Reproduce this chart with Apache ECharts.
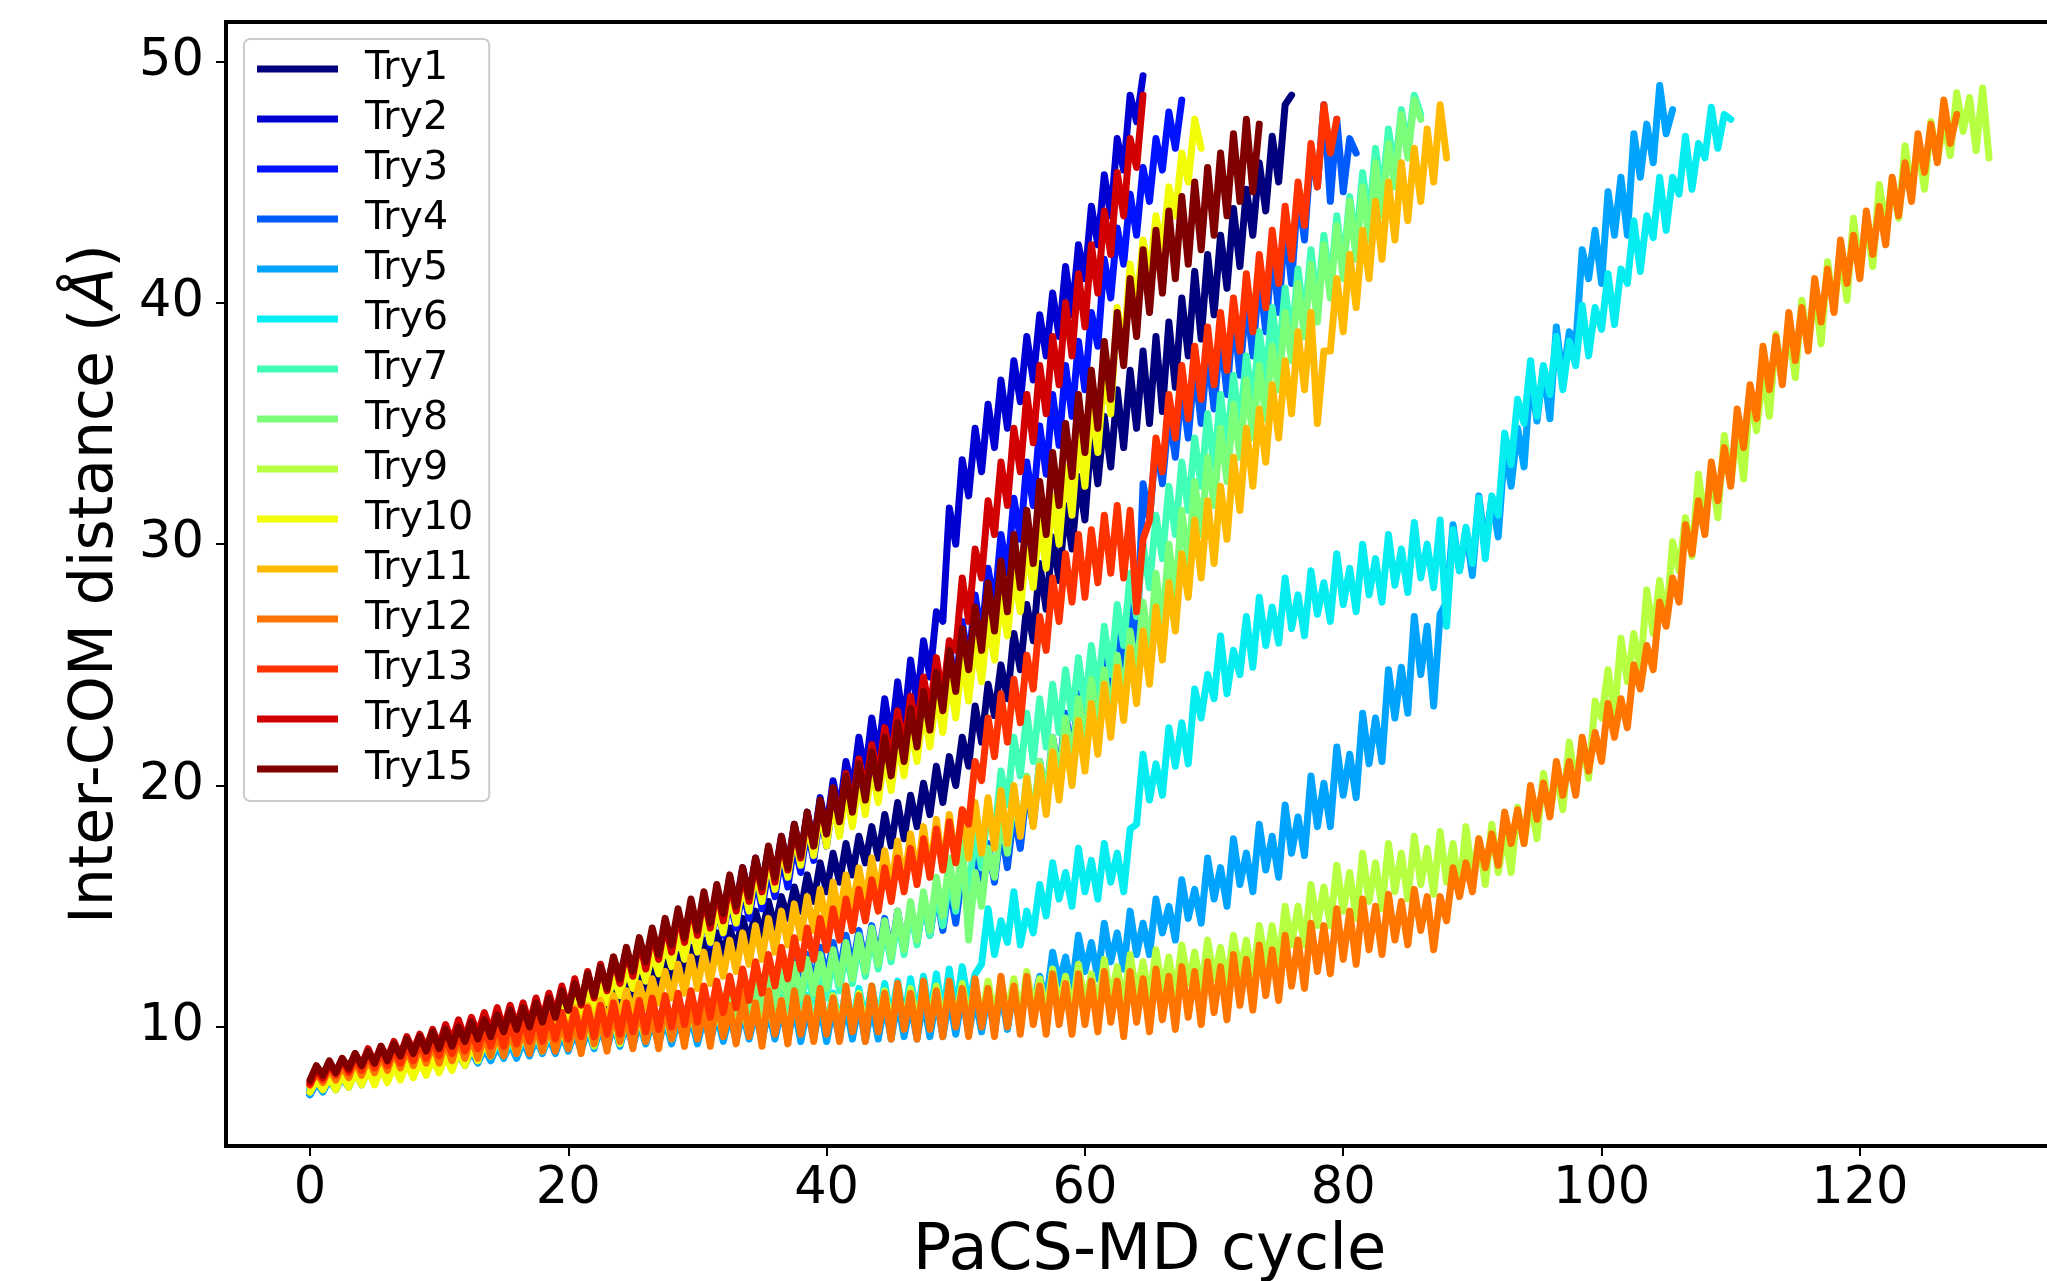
<!DOCTYPE html>
<html>
<head>
<meta charset="utf-8">
<script src="https://cdn.jsdelivr.net/npm/echarts@6/dist/echarts.min.js"></script>
<style>
html,body{margin:0;padding:0;background:#fff;}
#chart{width:2047px;height:1281px;}
</style>
</head>
<body>
<div id="chart"></div>
<script>
// x step between consecutive samples (cycles)
const STEP = 0.5;
const names = ['Try1','Try2','Try3','Try4','Try5','Try6','Try7','Try8','Try9','Try10','Try11','Try12','Try13','Try14','Try15'];
const colors = ['#00007f','#0000d2','#0012ff','#005bff','#00a4ff','#06edf1','#41ffb6','#7bff7b','#b6ff41','#f1fc06','#ffb900','#ff7500','#ff3200','#d20000','#800000'];
const xTicks = [0,20,40,60,80,100,120];
const yTicks = [10,20,30,40,50];

const try1 = [
7.4,7.9,7.6,8.0,7.7,8.2,7.8,8.3,7.9,8.4,
8.0,8.6,8.1,8.7,8.3,8.8,8.4,8.9,8.5,9.1,
8.6,9.2,8.7,9.3,8.8,9.5,9.0,9.6,9.1,9.8,
9.2,9.9,9.4,10.0,9.5,10.2,9.6,10.4,9.8,10.6,
10.0,10.9,10.2,11.1,10.4,11.4,10.7,11.6,10.9,11.9,
11.1,12.1,11.4,12.4,11.6,12.7,11.9,13.0,12.1,13.3,
12.5,13.6,12.7,13.9,13.0,14.1,13.2,14.5,13.5,14.8,
13.8,15.2,14.1,15.4,14.5,15.8,14.8,16.3,15.2,16.8,
15.6,17.2,16.0,17.6,16.3,17.9,16.8,18.3,17.0,18.8,
17.5,19.3,17.8,19.6,18.3,20.1,18.8,20.8,19.3,21.2,
20.0,22.0,20.8,23.3,21.8,24.2,22.9,25.0,23.6,26.3,
24.8,27.5,26.0,29.2,27.3,30.3,28.5,31.6,29.8,32.8,
31.0,34.6,32.5,35.3,33.2,36.4,34.0,37.2,34.8,38.0,
35.0,38.6,35.5,39.2,36.5,40.2,37.8,41.3,38.5,42.0,
39.5,42.8,40.6,43.9,41.5,44.7,42.8,45.8,43.8,46.9,
45.0,48.2,48.6];
const try2 = [
7.3,7.8,7.5,8.0,7.6,8.2,7.8,8.3,7.9,8.5,
8.0,8.6,8.2,8.8,8.3,8.9,8.4,9.1,8.6,9.2,
8.7,9.4,8.9,9.5,9.0,9.7,9.2,9.9,9.3,10.1,
9.5,10.3,9.7,10.6,9.9,10.8,10.1,11.0,10.3,11.3,
10.5,11.6,10.8,11.9,11.1,12.3,11.4,12.6,11.8,13.0,
12.0,13.4,12.4,13.8,12.8,14.2,13.2,14.6,13.6,15.0,
13.8,15.3,14.2,15.7,14.6,16.2,15.0,16.6,15.4,17.0,
15.8,17.4,16.2,17.9,16.6,18.4,17.1,18.9,17.6,19.5,
18.2,20.2,18.9,21.0,19.8,22.0,20.5,22.8,21.2,23.6,
21.9,24.3,22.5,25.2,23.4,26.0,24.5,27.2,26.8,31.5,
30.0,33.5,32.0,34.8,33.0,35.8,34.0,36.8,34.8,37.6,
35.9,38.6,36.8,39.5,37.8,40.4,38.6,41.5,39.5,42.4,
41.0,44.0,42.4,45.3,43.6,46.8,45.5,48.6,47.5,49.4];
const try3 = [
7.2,7.7,7.4,7.9,7.6,8.1,7.7,8.2,7.8,8.4,
8.0,8.5,8.1,8.7,8.2,8.8,8.4,9.0,8.5,9.1,
8.6,9.3,8.8,9.4,8.9,9.6,9.1,9.8,9.2,10.0,
9.4,10.2,9.6,10.4,9.8,10.6,10.0,10.8,10.2,11.0,
10.3,11.2,10.6,11.6,10.9,11.9,11.2,12.3,11.5,12.7,
11.7,13.0,12.0,13.3,12.3,13.6,12.6,14.0,12.9,14.3,
13.1,14.6,13.4,15.0,13.8,15.3,14.1,15.7,14.5,16.2,
14.9,16.6,15.4,17.1,15.8,17.6,16.4,18.2,16.9,18.8,
17.5,19.4,18.0,20.0,18.6,20.6,19.2,21.2,19.7,21.9,
20.3,22.6,20.9,23.3,21.6,24.1,22.4,24.9,23.2,25.8,
24.0,26.8,25.0,27.9,26.1,29.0,27.4,30.4,28.8,31.9,
30.2,33.4,31.6,34.9,32.9,36.2,34.1,37.4,35.3,38.4,
36.4,39.6,38.2,41.8,40.2,43.1,41.6,44.5,42.8,45.6,
44.2,46.8,45.5,47.9,46.4,48.4];
const try4 = [
7.4,7.9,7.5,8.1,7.7,8.2,7.8,8.4,8.0,8.5,
8.1,8.6,8.2,8.8,8.3,8.9,8.4,9.0,8.5,9.1,
8.6,9.2,8.7,9.3,8.8,9.5,8.9,9.6,9.0,9.7,
9.1,9.8,9.2,9.9,9.3,10.0,9.4,10.1,9.5,10.2,
9.5,10.4,9.6,10.5,9.7,10.6,9.8,10.7,9.9,10.8,
9.9,10.9,10.0,11.0,10.1,11.1,10.2,11.2,10.3,11.3,
10.3,11.4,10.4,11.6,10.6,11.8,10.7,12.0,10.9,12.2,
11.0,12.4,11.2,12.6,11.4,12.8,11.6,13.0,11.8,13.3,
12.0,13.5,12.2,13.8,12.4,14.0,12.6,14.2,12.8,14.5,
13.0,14.8,13.2,15.0,13.5,15.3,13.8,15.6,14.0,15.9,
14.3,16.4,14.8,17.0,15.4,17.6,16.0,18.2,16.6,18.9,
17.4,19.9,18.4,21.0,19.4,22.0,20.4,23.0,21.2,23.8,
21.8,24.6,22.4,25.6,23.4,26.8,24.6,28.0,25.5,32.5,
31.0,34.2,32.5,35.4,33.6,36.5,34.4,37.4,35.0,38.0,
35.6,38.8,36.2,39.6,37.0,40.2,37.8,41.2,38.8,42.2,
39.6,43.2,40.8,44.6,42.6,46.3,44.8,48.2,44.2,47.6,
44.6,46.8,46.2];
const try5 = [
7.2,7.7,7.3,7.8,7.4,7.9,7.5,8.1,7.6,8.2,
7.7,8.3,7.8,8.4,7.9,8.5,8.0,8.6,8.1,8.7,
8.2,8.8,8.3,8.9,8.4,9.0,8.5,9.1,8.6,9.2,
8.7,9.3,8.7,9.4,8.8,9.5,8.9,9.6,8.9,9.7,
9.0,9.8,9.0,9.9,9.1,10.0,9.1,10.1,9.2,10.1,
9.2,10.2,9.3,10.2,9.3,10.3,9.3,10.3,9.4,10.4,
9.3,10.4,9.4,10.5,9.4,10.5,9.4,10.6,9.5,10.6,
9.4,10.7,9.5,10.7,9.5,10.8,9.4,10.8,9.5,10.9,
9.4,10.8,9.5,10.9,9.5,11.0,9.4,10.9,9.5,11.0,
9.5,11.1,9.6,11.0,9.5,11.1,9.6,11.2,9.6,11.2,
9.7,11.3,9.7,11.2,9.8,11.4,9.8,11.5,9.9,11.6,
10.1,12.0,10.9,12.1,11.0,13.1,11.8,12.9,11.6,13.8,
12.3,13.5,12.0,14.3,12.7,13.9,12.4,14.8,13.0,14.3,
13.0,15.3,13.9,15.0,13.6,16.1,14.5,15.7,14.3,17.0,
15.3,16.6,15.0,17.8,15.9,17.2,15.6,18.4,16.5,17.9,
16.2,19.2,17.2,18.7,17.1,20.4,18.3,20.1,18.3,21.6,
19.6,21.3,19.5,23.0,20.9,22.8,21.0,24.8,22.8,24.9,
23.0,27.0,24.6,26.6,23.3,27.1,27.6,30.8,28.9,30.6,
28.7,32.0,29.9,31.9,30.3,34.0,32.4,34.8,33.2,37.0,
35.1,37.3,35.2,39.0,36.8,38.8,38.2,42.2,41.0,43.0,
40.8,44.6,42.8,45.2,42.8,47.0,45.2,47.4,45.8,49.0,
47.0,48.0];
const try6 = [
7.4,7.9,7.5,8.0,7.6,8.1,7.7,8.3,7.8,8.4,
7.9,8.5,8.0,8.6,8.1,8.7,8.2,8.8,8.3,8.9,
8.4,9.0,8.5,9.1,8.6,9.2,8.7,9.3,8.8,9.4,
8.8,9.5,8.9,9.6,9.0,9.7,9.0,9.8,9.1,9.9,
9.2,10.0,9.2,10.1,9.3,10.2,9.3,10.3,9.4,10.4,
9.4,10.4,9.5,10.5,9.5,10.6,9.6,10.6,9.6,10.7,
9.6,10.8,9.7,10.8,9.7,10.9,9.8,11.0,9.8,11.0,
9.8,11.1,9.9,11.2,9.9,11.2,10.0,11.3,10.0,11.4,
10.0,11.4,10.1,11.5,10.1,11.6,10.2,11.7,10.2,11.8,
10.3,11.9,10.3,12.0,10.4,12.1,10.4,12.2,10.5,12.4,
10.6,12.5,10.9,12.2,12.6,14.9,13.0,14.4,13.5,15.6,
13.4,14.8,13.9,15.9,14.6,16.8,15.3,16.4,15.0,17.4,
15.6,16.9,15.3,17.6,16.0,17.2,15.6,18.2,18.4,21.3,
19.4,20.9,19.6,22.4,20.8,22.6,20.9,24.0,22.8,24.6,
23.6,26.2,23.8,25.6,24.6,27.0,24.9,27.8,25.8,27.4,
25.9,28.6,26.5,27.9,26.2,28.9,27.1,28.4,26.8,29.6,
27.5,29.0,27.2,30.0,27.9,29.4,27.6,30.4,28.3,29.8,
28.0,30.9,28.6,30.0,28.2,31.0,26.6,30.6,28.9,30.7,
29.2,31.9,29.4,32.0,31.2,34.6,33.3,36.0,35.0,37.6,
35.3,37.4,36.2,38.6,36.4,38.4,37.4,39.9,37.8,39.8,
38.9,41.2,39.1,41.4,40.8,43.4,41.3,43.6,42.7,45.2,
43.0,45.2,44.5,46.9,44.7,46.6,46.0,48.1,46.4,47.8,
47.6];
const try7 = [
7.5,8.0,7.6,8.1,7.7,8.3,7.9,8.4,8.0,8.5,
8.1,8.7,8.2,8.8,8.3,8.9,8.4,9.0,8.5,9.1,
8.6,9.2,8.7,9.3,8.8,9.4,8.9,9.5,9.0,9.6,
9.1,9.7,9.2,9.8,9.2,9.9,9.3,10.0,9.4,10.1,
9.4,10.2,9.5,10.3,9.5,10.4,9.6,10.5,9.6,10.6,
9.7,10.7,9.7,10.8,9.8,10.9,9.8,11.0,9.9,11.1,
9.9,11.2,10.0,11.3,10.1,11.4,10.2,11.5,10.3,11.7,
10.4,11.8,10.5,12.0,10.7,12.2,10.9,12.4,11.0,12.6,
11.2,12.9,11.5,13.2,11.8,13.5,12.1,13.8,12.4,14.1,
12.7,14.5,13.0,14.9,13.4,15.3,13.8,15.7,14.2,16.2,
14.8,17.0,15.6,18.0,16.6,19.2,17.8,20.6,19.2,22.0,
20.4,23.0,21.0,23.6,21.6,24.2,22.2,24.8,22.8,25.3,
23.2,25.8,23.8,26.6,24.6,27.5,25.8,28.8,27.0,30.0,
28.2,31.2,29.4,32.4,30.4,33.4,31.4,34.4,32.4,35.4,
33.2,36.2,34.0,37.0,34.8,37.8,35.8,38.8,36.8,39.8,
37.6,40.6,38.4,41.4,39.2,42.2,39.8,42.8,40.6,43.6,
41.4,44.4,42.4,45.4,43.4,46.4,44.4,47.2,45.4,48.0,
46.4,48.6,47.8];
const try8 = [
7.6,8.1,7.7,8.2,7.8,8.4,8.0,8.5,8.1,8.6,
8.2,8.8,8.3,8.9,8.4,9.0,8.5,9.1,8.6,9.2,
8.7,9.3,8.8,9.4,8.9,9.5,9.0,9.6,9.1,9.7,
9.1,9.8,9.2,9.9,9.3,10.0,9.3,10.1,9.4,10.2,
9.4,10.3,9.5,10.4,9.5,10.5,9.6,10.6,9.6,10.7,
9.7,10.8,9.8,10.9,9.8,11.0,9.9,11.1,10.0,11.2,
10.0,11.3,10.1,11.4,10.2,11.6,10.3,11.8,10.5,12.0,
10.6,12.2,10.8,12.4,11.0,12.6,11.2,12.8,11.4,13.0,
11.6,13.2,11.8,13.5,12.0,13.8,12.3,14.1,12.6,14.4,
12.9,14.8,13.2,15.2,13.6,15.6,14.0,16.2,14.6,17.0,
15.0,17.8,13.6,16.4,15.0,17.4,16.2,18.6,17.2,19.6,
18.0,20.4,18.6,21.0,19.4,22.0,20.2,22.8,21.0,23.6,
21.8,24.4,22.4,24.8,22.8,25.4,23.6,26.4,24.6,27.6,
25.6,28.8,26.6,30.0,27.8,31.4,29.2,32.6,30.4,33.6,
31.6,34.8,32.6,35.8,33.6,36.8,34.4,37.4,35.2,38.2,
36.4,39.6,37.6,40.8,38.6,41.6,39.2,42.4,40.2,43.2,
41.0,44.2,41.8,44.8,42.6,45.8,43.6,46.6,44.8,47.8,
46.0,48.4,47.6];
const try9 = [
7.5,8.0,7.6,8.1,7.7,8.2,7.8,8.4,7.9,8.5,
8.0,8.6,8.1,8.7,8.2,8.8,8.3,8.9,8.4,9.0,
8.5,9.1,8.6,9.2,8.7,9.3,8.7,9.4,8.8,9.5,
8.9,9.6,8.9,9.7,9.0,9.8,9.0,9.9,9.1,10.0,
9.1,10.1,9.2,10.2,9.2,10.3,9.3,10.3,9.3,10.4,
9.4,10.5,9.4,10.5,9.5,10.6,9.5,10.7,9.6,10.7,
9.6,10.8,9.6,10.8,9.7,10.9,9.7,10.9,9.7,11.0,
9.8,11.0,9.8,11.1,9.8,11.1,9.9,11.2,9.9,11.2,
9.9,11.3,10.0,11.3,10.0,11.4,10.0,11.4,10.1,11.5,
10.1,11.5,10.1,11.6,10.2,11.6,10.2,11.7,10.2,11.7,
10.3,11.8,10.3,11.8,10.4,11.9,10.4,12.0,10.5,12.0,
10.4,12.3,10.7,12.0,10.5,12.4,10.8,12.1,10.6,12.6,
10.9,12.2,10.7,12.8,11.1,12.5,10.9,13.0,11.3,12.7,
11.1,13.2,11.5,12.9,11.3,13.4,11.8,13.1,11.5,13.6,
12.0,13.3,11.8,13.8,12.2,13.6,12.0,14.2,12.6,14.2,
12.6,15.0,13.4,15.0,13.4,15.9,14.2,15.8,14.2,16.7,
14.8,16.4,14.5,17.2,15.2,16.8,14.9,17.6,15.6,17.2,
15.3,17.9,15.9,17.4,15.5,18.1,16.0,17.6,15.6,18.3,
16.2,17.8,15.9,18.4,16.4,18.0,16.4,19.1,17.6,19.4,
17.8,20.5,18.8,20.6,19.0,21.8,20.0,21.8,20.3,23.5,
22.8,24.8,22.9,26.1,24.3,26.3,24.7,28.1,26.3,28.5,
26.7,30.1,28.9,31.1,29.5,32.9,30.9,33.1,31.1,34.5,
32.5,34.7,32.7,36.3,34.7,37.1,35.3,38.7,36.9,38.9,
36.9,40.1,38.3,40.5,38.3,41.7,39.7,42.1,40.1,43.5,
41.3,43.5,41.5,44.9,43.1,45.1,43.5,46.5,44.7,46.5,
44.7,47.5,45.9,47.5,46.1,48.7,47.1,48.5,46.3,48.9,
46.0];
const try10 = [
7.3,7.8,7.4,7.9,7.4,8.0,7.5,8.1,7.6,8.2,
7.6,8.3,7.7,8.4,7.8,8.5,7.9,8.6,8.0,8.7,
8.1,8.8,8.2,9.0,8.4,9.2,8.6,9.4,8.8,9.6,
9.0,9.8,9.2,10.0,9.4,10.3,9.6,10.6,9.9,10.9,
10.1,11.2,10.4,11.5,10.7,11.8,11.0,12.1,11.3,12.4,
11.6,12.8,11.9,13.1,12.2,13.5,12.5,13.9,12.8,14.3,
13.1,14.6,13.5,15.0,13.9,15.5,14.3,16.0,14.8,16.5,
15.2,17.0,15.7,17.5,16.2,18.0,16.7,18.5,17.1,19.0,
17.5,19.4,17.9,19.8,18.3,20.3,18.8,20.8,19.3,21.3,
19.8,21.9,20.4,22.5,21.0,23.2,21.6,23.9,22.2,24.6,
22.8,25.3,23.5,26.0,24.3,26.9,25.2,27.8,26.2,28.8,
27.2,30.0,28.2,31.0,29.0,32.0,30.0,33.2,31.2,34.6,
32.4,35.8,33.8,37.2,35.4,39.8,38.0,41.6,39.8,42.6,
41.0,43.6,42.2,44.8,43.6,46.2,45.0,47.6,46.4];
const try11 = [
7.6,8.2,7.8,8.4,7.9,8.6,8.1,8.8,8.2,8.9,
8.3,9.1,8.4,9.2,8.5,9.3,8.6,9.4,8.7,9.5,
8.8,9.6,8.9,9.7,9.0,9.8,9.1,9.9,9.2,10.0,
9.3,10.1,9.4,10.2,9.5,10.4,9.6,10.5,9.7,10.6,
9.8,10.8,9.9,10.9,10.0,11.1,10.2,11.3,10.4,11.5,
10.6,11.8,10.8,12.0,11.0,12.3,11.2,12.6,11.4,12.9,
11.6,13.1,11.8,13.4,12.1,13.6,12.3,13.9,12.6,14.2,
12.8,14.5,13.1,14.8,13.4,15.1,13.7,15.4,14.0,15.7,
14.2,16.0,14.5,16.3,14.8,16.6,15.1,17.0,15.4,17.3,
15.7,17.7,15.9,18.0,16.2,18.3,16.4,18.6,16.6,18.8,
16.8,19.0,17.0,19.3,17.2,19.5,17.4,19.8,17.6,20.0,
17.9,20.3,18.3,20.8,18.8,21.4,19.4,22.0,20.0,22.7,
20.6,23.4,21.3,24.2,22.0,24.9,22.7,25.7,23.4,26.4,
24.2,27.4,25.2,28.4,26.4,29.6,27.8,31.0,28.6,31.8,
29.2,32.4,30.2,33.6,31.4,34.8,32.4,35.6,33.4,36.6,
34.4,37.6,35.4,38.8,36.4,39.6,35.0,38.0,38.0,41.0,
38.8,42.0,39.8,43.0,41.0,44.2,41.8,45.0,42.6,45.8,
43.4,46.4,44.2,47.2,45.0,48.2,46.0];
const try12 = [
7.6,8.1,7.7,8.3,7.8,8.4,7.9,8.6,8.0,8.7,
8.1,8.8,8.2,9.0,8.3,9.1,8.4,9.2,8.5,9.3,
8.5,9.4,8.6,9.5,8.7,9.6,8.7,9.7,8.8,9.8,
8.8,9.9,8.9,10.0,8.9,10.1,9.0,10.2,9.0,10.3,
9.1,10.3,8.9,10.7,9.3,10.4,9.0,10.8,9.4,10.5,
9.1,11.0,9.4,10.6,9.1,11.1,9.5,10.7,9.2,11.2,
9.5,10.8,9.2,11.3,9.6,10.9,9.3,11.4,9.6,11.0,
9.2,11.5,9.7,11.1,9.3,11.5,9.7,11.2,9.4,11.6,
9.7,11.2,9.4,11.7,9.8,11.3,9.4,11.7,9.8,11.4,
9.5,11.8,9.9,11.4,9.5,11.9,9.9,11.5,9.6,11.9,
10.0,11.6,9.6,12.0,10.0,11.6,9.6,12.1,10.0,11.7,
9.7,12.1,10.1,11.7,9.7,12.2,10.1,11.8,9.7,12.2,
10.1,11.9,9.8,12.3,10.2,11.9,9.6,12.3,10.2,12.0,
9.8,12.4,10.3,12.1,9.9,12.5,10.4,12.3,10.1,12.7,
10.6,12.5,10.3,13.0,10.9,12.8,10.7,13.4,11.3,13.2,
11.1,13.8,11.7,13.6,11.6,14.3,12.3,14.2,12.2,14.9,
12.8,14.8,12.6,15.3,13.2,15.0,13.0,15.5,13.6,15.2,
13.4,15.7,14.0,15.4,13.2,15.4,14.4,16.6,15.4,16.8,
15.6,17.8,16.6,18.0,16.7,18.9,17.6,19.0,17.6,20.0,
18.6,20.1,18.7,21.0,19.6,21.0,19.6,22.0,20.6,22.2,
21.0,23.4,22.0,23.6,22.4,25.0,24.0,25.8,24.8,27.6,
26.6,28.6,27.6,30.8,29.6,31.8,30.4,33.4,31.8,34.0,
32.4,35.6,34.0,36.6,35.2,38.2,36.4,38.6,36.6,39.6,
37.6,39.8,38.0,41.0,39.2,41.4,39.6,42.6,40.8,42.8,
41.0,43.8,42.0,44.0,42.4,45.2,43.6,45.8,44.2,47.0,
45.4,47.4,45.8,48.4,46.6,47.8];
const try13 = [
7.6,8.2,7.8,8.4,8.0,8.6,8.1,8.7,8.2,8.9,
8.3,9.0,8.4,9.1,8.5,9.3,8.6,9.4,8.7,9.5,
8.8,9.6,8.9,9.7,9.0,9.8,9.1,9.9,9.2,10.1,
9.2,10.2,9.3,10.3,9.4,10.4,9.4,10.5,9.5,10.6,
9.5,10.7,9.6,10.8,9.6,10.9,9.7,11.0,9.7,11.0,
9.8,11.1,9.8,11.2,9.9,11.3,10.0,11.4,10.1,11.5,
10.2,11.7,10.4,11.9,10.6,12.1,10.8,12.4,11.1,12.7,
11.4,13.0,11.7,13.3,12.0,13.7,12.4,14.1,12.8,14.5,
13.2,14.9,13.6,15.3,14.0,15.7,14.4,16.1,14.8,16.6,
15.2,17.0,15.6,17.4,15.9,17.8,16.2,18.2,16.5,18.5,
16.8,19.0,18.4,21.0,20.2,22.8,21.2,23.8,21.8,24.4,
22.6,25.4,24.0,27.0,25.6,28.6,26.8,29.6,27.6,30.4,
27.8,30.6,28.4,31.2,28.8,31.6,28.6,31.4,27.2,30.2,
31.0,34.4,33.0,36.2,34.4,37.4,35.2,38.2,36.0,39.0,
36.6,39.6,37.2,40.2,38.0,41.2,38.8,42.0,39.8,43.0,
40.8,44.0,41.8,45.0,43.2,46.6,44.8,48.2,46.2,47.6];
const try14 = [
7.7,8.3,7.9,8.5,8.1,8.7,8.2,8.9,8.4,9.1,
8.5,9.2,8.7,9.4,8.8,9.6,9.0,9.7,9.1,9.9,
9.2,10.1,9.4,10.3,9.5,10.4,9.7,10.6,9.8,10.8,
9.9,10.9,10.0,11.0,10.1,11.2,10.3,11.4,10.5,11.7,
10.7,12.0,10.9,12.3,11.2,12.6,11.5,12.9,11.8,13.2,
12.1,13.6,12.4,13.9,12.8,14.3,13.1,14.7,13.5,15.1,
13.8,15.4,14.1,15.7,14.4,16.0,14.8,16.4,15.2,16.9,
15.6,17.4,16.0,17.8,16.5,18.3,17.0,18.8,17.5,19.3,
18.0,19.9,18.6,20.5,19.1,21.1,19.7,21.7,20.3,22.4,
21.0,23.1,21.6,23.7,22.3,24.5,23.0,25.3,23.6,26.0,
25.6,28.6,26.8,29.8,28.6,31.8,30.4,33.4,31.6,34.8,
33.0,36.2,34.2,37.4,35.4,38.6,36.6,40.0,37.8,41.2,
39.0,42.4,40.4,43.8,42.0,45.4,43.6,46.8,45.6,48.6];
const try15 = [
7.8,8.4,8.0,8.6,8.1,8.7,8.3,8.9,8.4,9.0,
8.5,9.2,8.6,9.3,8.8,9.5,8.9,9.6,9.0,9.8,
9.1,9.9,9.2,10.0,9.4,10.2,9.5,10.3,9.6,10.5,
9.8,10.7,9.9,10.8,10.0,11.0,10.2,11.2,10.4,11.5,
10.7,11.8,11.0,12.2,11.3,12.5,11.6,12.9,12.0,13.3,
12.3,13.7,12.7,14.1,13.0,14.5,13.4,14.9,13.7,15.3,
14.0,15.6,14.3,15.9,14.7,16.3,15.0,16.6,15.4,17.0,
15.8,17.5,16.2,17.9,16.6,18.4,17.1,18.9,17.5,19.4,
18.0,19.9,18.5,20.4,18.9,20.9,19.4,21.4,19.9,22.0,
20.4,22.6,21.0,23.2,21.6,23.9,22.3,24.7,23.1,25.6,
23.9,26.5,24.8,27.4,25.6,28.4,26.4,29.3,27.2,30.4,
28.2,31.4,29.2,32.6,30.4,33.8,31.6,35.0,32.8,36.2,
33.8,37.2,34.8,38.4,36.0,39.6,37.4,41.0,38.6,42.2,
39.6,43.0,40.4,43.8,41.0,44.4,41.6,45.0,42.2,45.6,
42.8,46.2,43.6,47.0,44.2,47.6,44.6,47.4];

const allValues = [try1,try2,try3,try4,try5,try6,try7,try8,try9,try10,try11,try12,try13,try14,try15];

const FONT = 'DejaVu Sans';
const LW = 7;
const chart = echarts.init(document.getElementById('chart'), null, {renderer:'canvas'});

const series = allValues.map((vals, si) => ({
  name: names[si],
  type: 'line',
  data: vals.map((v, i) => [i * STEP, v]),
  showSymbol: false,
  symbol: 'none',
  smooth: false,
  clip: true,
  lineStyle: { color: colors[si], width: LW, join: 'round', cap: 'round' },
  itemStyle: { color: colors[si] },
  emphasis: { disabled: true },
  z: 2
}));

chart.setOption({
  animation: false,
  backgroundColor: '#ffffff',
  grid: {
    left: 226, top: 22, width: 1847, height: 1124,
    outerBoundsMode: 'none',
    show: true, borderColor: '#000', borderWidth: 4, backgroundColor: 'transparent',
    containLabel: false
  },
  legend: {
    orient: 'vertical',
    left: 244, top: 39,
    padding: [10, 16, 12, 13],
    itemWidth: 81, itemHeight: LW, itemGap: 10,
    icon: 'rect',
    backgroundColor: 'rgba(255,255,255,0.85)',
    borderColor: '#cccccc', borderWidth: 2, borderRadius: 6,
    textStyle: { fontFamily: FONT, fontSize: 39.5, color: '#000', lineHeight: 37, padding: [0, 0, 0, 22] },
    data: names.map(n => ({ name: n })),
    selectedMode: false
  },
  xAxis: {
    type: 'value', min: -6.5, max: 136.5,
    name: 'PaCS-MD cycle', nameLocation: 'middle', nameGap: 67,
    nameTextStyle: { fontFamily: FONT, fontSize: 64, color: '#000' },
    axisLine: { show: false, onZero: false },
    axisTick: { show: true, length: 10, lineStyle: { color: '#000', width: 2 }, customValues: xTicks },
    axisLabel: { show: true, fontFamily: FONT, fontSize: 51, color: '#000', margin: 18, customValues: xTicks },
    splitLine: { show: false }
  },
  yAxis: {
    type: 'value', min: 5.07, max: 51.63,
    name: 'Inter-COM distance ({i|Å})', nameLocation: 'middle', nameGap: 100, nameRotate: 90,
    nameTextStyle: { fontFamily: FONT, fontSize: 60, color: '#000',
      rich: { i: { fontFamily: FONT, fontSize: 60, fontStyle: 'italic', color: '#000' } } },
    axisLine: { show: false, onZero: false },
    axisTick: { show: true, length: 10, lineStyle: { color: '#000', width: 2 }, customValues: yTicks },
    axisLabel: { show: true, fontFamily: FONT, fontSize: 51, color: '#000', margin: 22, customValues: yTicks },
    splitLine: { show: false }
  },
  series: series
});
</script>
</body>
</html>
